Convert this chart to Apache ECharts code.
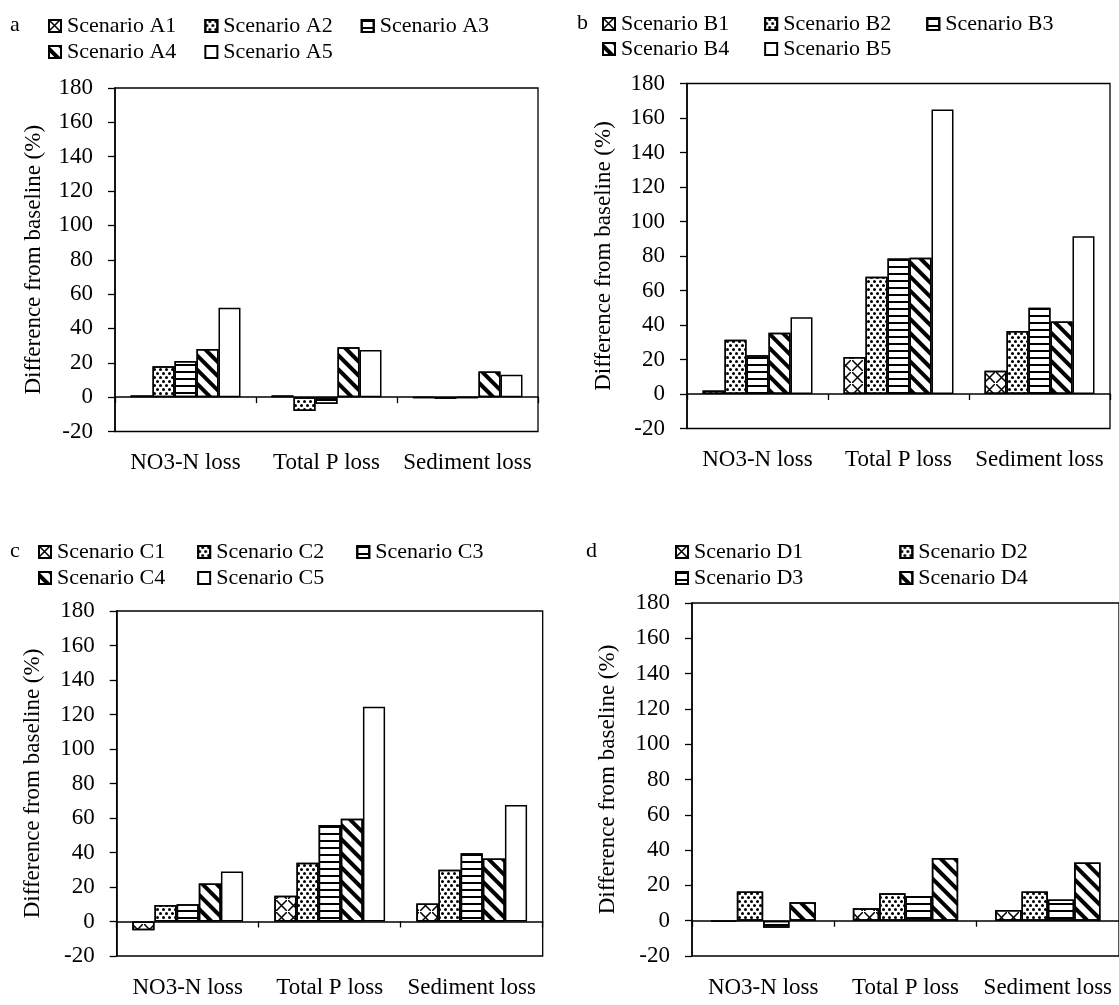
<!DOCTYPE html>
<html><head><meta charset="utf-8">
<script src="https://cdn.jsdelivr.net/npm/echarts@6/dist/echarts.min.js"></script>
<style>html,body{margin:0;padding:0;background:#fff}#chart{width:1119px;height:1005px}</style>
</head><body><div id="chart"></div>
<script>
// ---- data ----
const categories = ['NO3-N loss', 'Total P loss', 'Sediment loss'];
const yMin = -20, yMax = 180, yStep = 20;
const yAxisTitle = 'Difference from baseline (%)';

const namesA = ['Scenario A1', 'Scenario A2', 'Scenario A3', 'Scenario A4', 'Scenario A5'];
const a1 = [1, 1, -0.5];
const a2 = [18, -8, -1];
const a3 = [21, -4, -0.5];
const a4 = [28, 29, 15];
const a5 = [52, 27.5, 13];

const namesB = ['Scenario B1', 'Scenario B2', 'Scenario B3', 'Scenario B4', 'Scenario B5'];
const b1 = [2, 21.5, 13.5];
const b2 = [31.5, 68, 36.5];
const b3 = [22.5, 78.5, 50];
const b4 = [35.5, 79, 42];
const b5 = [44.5, 165, 91.5];

const namesC = ['Scenario C1', 'Scenario C2', 'Scenario C3', 'Scenario C4', 'Scenario C5'];
const c1 = [-5, 15, 10.5];
const c2 = [9.5, 34, 30];
const c3 = [10, 56, 39.5];
const c4 = [22, 59.5, 36.5];
const c5 = [29, 124.5, 67.5];

const namesD = ['Scenario D1', 'Scenario D2', 'Scenario D3', 'Scenario D4'];
const d1 = [-0.5, 7, 6];
const d2 = [16.5, 15.5, 16.5];
const d3 = [-4, 14, 12];
const d4 = [10.5, 35.5, 33];

// ---- styles ----
const FONT = 'Liberation Serif';
const decals = {
  cross: {symbol: 'path://M0 0H1L10 9V10H9L0 1Z M9 0H10V1L1 10H0V9Z', symbolSize: 1,
          dashArrayX: [[11, 0.01]], dashArrayY: [11, 0.01], color: '#000'},
  dots: {symbol: 'circle', symbolSize: 1, dashArrayX: [[2.2, 2.2], [0, 2.2, 2.2, 0]], dashArrayY: [2.2, 0.6], color: '#000'},
  hlines: {symbol: 'rect', symbolSize: 1, dashArrayX: [[1, 0]], dashArrayY: [1.5, 4.5], color: '#000'},
  diag: {symbol: 'rect', symbolSize: 1, dashArrayX: [[1, 0]], dashArrayY: [3.5, 5.5], rotation: Math.PI / 4, color: '#000'}
};
const decalOrder5 = ['cross', 'dots', 'hlines', 'diag', null];
const decalOrder4 = ['cross', 'dots', 'hlines', 'diag'];

const panels = [
  {letter: 'a', letterPos: {left: 10, top: 14}, names: namesA, values: [a1, a2, a3, a4, a5], decals: decalOrder5,
   grid: {left: 115, top: 88, width: 423, height: 343.5}, catGap: '22%',
   legendRows: [[0, 1, 2], [3, 4]], legendLeft: 48, legendTops: [15, 41], itemGap: 28, nameGap: 70},
  {letter: 'b', letterPos: {left: 577, top: 12}, names: namesB, values: [b1, b2, b3, b4, b5], decals: decalOrder5,
   grid: {left: 687, top: 83.5, width: 423, height: 345}, catGap: '22%',
   legendRows: [[0, 1, 2], [3, 4]], legendLeft: 602, legendTops: [13, 38], itemGap: 35, nameGap: 72},
  {letter: 'c', letterPos: {left: 10, top: 540}, names: namesC, values: [c1, c2, c3, c4, c5], decals: decalOrder5,
   grid: {left: 116.7, top: 611, width: 426, height: 345}, catGap: '22%',
   legendRows: [[0, 1, 2], [3, 4]], legendLeft: 38, legendTops: [541, 567], itemGap: 32, nameGap: 72},
  {letter: 'd', letterPos: {left: 586, top: 540}, names: namesD, values: [d1, d2, d3, d4], decals: decalOrder4,
   grid: {left: 692, top: 603, width: 432, height: 353}, catGap: '26%',
   legendRows: [[0, 1], [2, 3]], legendLeft: 675, legendTops: [541, 567], itemGap: 96, nameGap: 73}
];

const option = {
  animation: false,
  backgroundColor: '#fff',
  title: [], grid: [], xAxis: [], yAxis: [], legend: [], series: []
};

panels.forEach((p, i) => {
  option.title.push({text: p.letter, left: p.letterPos.left, top: p.letterPos.top, padding: 0,
    textStyle: {fontFamily: FONT, fontSize: 22, fontWeight: 'normal', color: '#000'}});
  option.grid.push(Object.assign({show: true, borderColor: '#000', borderWidth: 1.3, backgroundColor: '#fff', containLabel: false}, p.grid));
  option.xAxis.push({type: 'category', gridIndex: i, data: categories, position: 'bottom',
    axisLine: {show: true, onZero: true, lineStyle: {color: '#000', width: 1.5}},
    axisTick: {show: true, length: 6, lineStyle: {color: '#000', width: 1.3}},
    axisLabel: {show: false}, splitLine: {show: false}});
  option.xAxis.push({type: 'category', gridIndex: i, data: categories, position: 'bottom',
    axisLine: {show: false, onZero: false}, axisTick: {show: false}, splitLine: {show: false},
    axisLabel: {show: true, margin: 20, fontFamily: FONT, fontSize: 23, color: '#000', interval: 0}});
  option.yAxis.push({type: 'value', gridIndex: i, min: yMin, max: yMax, interval: yStep,
    name: yAxisTitle, nameLocation: 'middle', nameGap: p.nameGap,
    nameTextStyle: {fontFamily: FONT, fontSize: 23, color: '#000'},
    axisLine: {show: true, lineStyle: {color: '#000', width: 1.5}},
    axisTick: {show: true, length: 7, lineStyle: {color: '#000', width: 1.3}},
    axisLabel: {margin: 22, fontFamily: FONT, fontSize: 23, color: '#000'},
    splitLine: {show: false}});
  p.legendRows.forEach((row, r) => {
    option.legend.push({data: row.map(k => p.names[k]), left: p.legendLeft, top: p.legendTops[r],
      orient: 'horizontal', icon: 'rect', itemWidth: 12, itemHeight: 12, itemGap: p.itemGap, padding: 0,
      selectedMode: false,
      itemStyle: {borderColor: '#000', borderWidth: 2},
      textStyle: {fontFamily: FONT, fontSize: 22, color: '#000', padding: [0, 0, 0, 1]}});
  });
  p.names.forEach((name, k) => {
    const style = {color: '#fff', borderColor: '#000', borderWidth: 1.5};
    if (p.decals[k]) style.decal = decals[p.decals[k]];
    option.series.push({type: 'bar', name: name, xAxisIndex: 2 * i, yAxisIndex: i,
      data: p.values[k], barGap: '0%', barCategoryGap: p.catGap, silent: true,
      itemStyle: style, emphasis: {disabled: true}});
  });
});

const chart = echarts.init(document.getElementById('chart'), null, {renderer: 'canvas'});
chart.setOption(option);
</script>
</body></html>
